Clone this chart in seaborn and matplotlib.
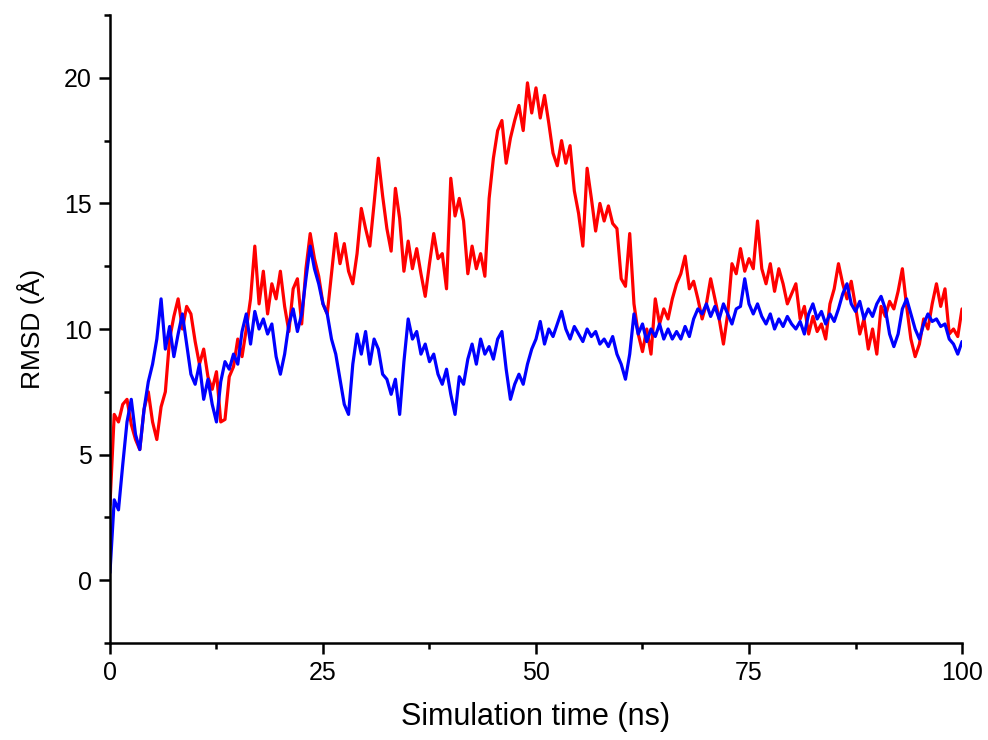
import numpy as np
import pandas as pd
import matplotlib
matplotlib.use("Agg")
import matplotlib.pyplot as plt
import seaborn as sns
from matplotlib.ticker import MultipleLocator

# sampling grid of the trajectories (ns), one value every 0.5 ns
time_ns = np.arange(0, 100.5, 0.5)

# RMSD values (Angstrom)
rmsd_red = [
    3.0, 6.6, 6.3, 7.0, 7.2, 6.2, 5.6, 5.2, 6.8, 7.5,
    6.3, 5.6, 6.9, 7.5, 9.6, 10.5, 11.2, 10.0, 10.9, 10.6,
    9.5, 8.6, 9.2, 8.1, 7.6, 8.3, 6.3, 6.4, 8.1, 8.5,
    9.6, 8.9, 10.0, 11.2, 13.3, 11.0, 12.3, 10.6, 11.8, 11.2,
    12.3, 10.9, 9.9, 11.6, 12.0, 10.2, 12.4, 13.8, 12.8, 12.1,
    11.0, 10.6, 12.2, 13.8, 12.6, 13.4, 12.3, 11.8, 13.0, 14.8,
    14.0, 13.3, 15.0, 16.8, 15.3, 14.0, 13.1, 15.6, 14.4, 12.3,
    13.5, 12.4, 13.2, 12.2, 11.3, 12.6, 13.8, 12.8, 13.0, 11.6,
    16.0, 14.5, 15.2, 14.3, 12.2, 13.3, 12.4, 13.0, 12.1, 15.2,
    16.8, 17.9, 18.3, 16.6, 17.6, 18.3, 18.9, 17.9, 19.8, 18.6,
    19.6, 18.4, 19.3, 18.2, 17.0, 16.5, 17.5, 16.6, 17.3, 15.5,
    14.6, 13.3, 16.4, 15.2, 13.9, 15.0, 14.3, 14.9, 14.2, 14.0,
    12.0, 11.7, 13.8, 11.0, 9.8, 9.1, 10.0, 9.0, 11.2, 10.2,
    10.8, 10.4, 11.2, 11.8, 12.2, 12.9, 11.6, 11.9, 11.2, 10.4,
    11.0, 12.0, 11.2, 10.4, 9.4, 10.6, 12.6, 12.2, 13.2, 12.3,
    12.8, 12.4, 14.3, 12.4, 11.8, 12.6, 11.5, 12.4, 11.8, 11.0,
    11.4, 11.8, 10.4, 10.9, 9.8, 10.5, 9.9, 10.2, 9.6, 11.0,
    11.6, 12.6, 11.8, 11.2, 11.9, 10.9, 9.8, 10.4, 9.2, 10.0,
    9.0, 10.9, 10.5, 11.1, 10.8, 11.5, 12.4, 10.9, 9.6, 8.9,
    9.4, 10.4, 10.0, 11.0, 11.8, 10.9, 11.6, 9.8, 10.0, 9.7,
    10.8,
]

rmsd_blue = [
    0.3, 3.2, 2.8, 4.6, 6.3, 7.2, 5.8, 5.2, 6.8, 7.9,
    8.6, 9.6, 11.2, 9.2, 10.1, 8.9, 9.8, 10.6, 9.4, 8.2,
    7.8, 8.6, 7.2, 8.0, 7.0, 6.3, 7.9, 8.7, 8.4, 9.0,
    8.6, 9.9, 10.6, 9.4, 10.7, 10.0, 10.4, 9.8, 10.2, 8.9,
    8.2, 9.0, 10.2, 10.8, 9.9, 10.6, 12.0, 13.3, 12.4, 11.8,
    11.0, 10.6, 9.6, 9.0, 8.0, 7.0, 6.6, 8.6, 9.8, 9.0,
    9.9, 8.6, 9.6, 9.2, 8.2, 8.0, 7.4, 8.0, 6.6, 8.7,
    10.4, 9.6, 9.9, 9.0, 9.4, 8.7, 9.0, 8.2, 7.8, 8.4,
    7.4, 6.6, 8.1, 7.8, 8.8, 9.4, 8.6, 9.6, 9.0, 9.3,
    8.8, 9.6, 9.9, 8.4, 7.2, 7.8, 8.2, 7.8, 8.6, 9.2,
    9.6, 10.3, 9.4, 10.0, 9.7, 10.2, 10.7, 10.0, 9.6, 10.1,
    9.8, 9.5, 10.0, 9.7, 9.9, 9.4, 9.6, 9.3, 9.7, 9.0,
    8.6, 8.0, 9.0, 10.6, 9.8, 10.2, 9.5, 10.0, 9.7, 10.2,
    9.6, 10.0, 9.6, 9.9, 9.6, 10.1, 9.7, 10.4, 10.8, 10.6,
    11.0, 10.5, 10.9, 10.4, 11.0, 10.6, 10.2, 10.8, 10.9, 12.0,
    11.0, 10.6, 11.0, 10.5, 10.2, 10.6, 10.0, 10.4, 10.1, 10.5,
    10.2, 10.0, 10.3, 9.8, 10.6, 11.0, 10.4, 10.7, 10.2, 10.6,
    10.3, 10.8, 11.4, 11.8, 11.0, 10.7, 11.1, 10.4, 10.8, 10.5,
    11.0, 11.3, 10.8, 9.8, 9.3, 9.8, 10.8, 11.2, 10.6, 10.0,
    9.6, 10.2, 10.6, 10.3, 10.4, 10.1, 10.2, 9.6, 9.4, 9.0,
    9.5,
]

sns.set_style("ticks")
plt.rcParams["font.family"] = ["Liberation Sans", "DejaVu Sans"]

fig = plt.figure(figsize=(9.88, 7.4), dpi=100)
ax = fig.add_axes([0.1113, 0.1311, 0.8624, 0.8486])

sns.lineplot(x=time_ns, y=rmsd_red, color="#ff0000", linewidth=2.3, ax=ax)
sns.lineplot(x=time_ns, y=rmsd_blue, color="#0000ff", linewidth=2.3, ax=ax)

ax.set_xlim(0, 100)
ax.set_ylim(-2.5, 22.5)
ax.set_xticks([0, 25, 50, 75, 100])
ax.set_yticks([0, 5, 10, 15, 20])
ax.xaxis.set_minor_locator(MultipleLocator(12.5))
ax.yaxis.set_minor_locator(MultipleLocator(2.5))

ax.tick_params(which="major", length=8, width=1.8, labelsize=18, pad=5,
               colors="black")
ax.tick_params(which="minor", length=4, width=1.8, colors="black")

ax.set_xlabel("Simulation time (ns)", fontsize=22, labelpad=12, color="black")
ax.set_ylabel("RMSD (Å)", fontsize=19, labelpad=14, color="black")

sns.despine(ax=ax)
for side in ["left", "bottom"]:
    ax.spines[side].set_linewidth(1.8)
    ax.spines[side].set_color("black")

fig.savefig("out.png", dpi=100, facecolor="white")
